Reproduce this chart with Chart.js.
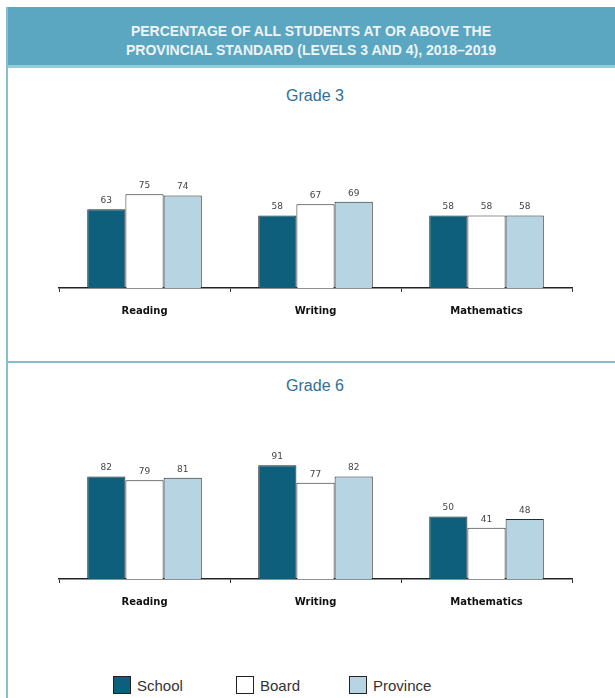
<!DOCTYPE html>
<html>
<head>
<meta charset="utf-8">
<script src="https://cdn.jsdelivr.net/npm/chart.js@4/dist/chart.umd.min.js"></script>
<style>
  body { margin: 0; background: #fff; font-family: "Liberation Sans", Arial, sans-serif; }
  #page { position: relative; width: 615px; height: 698px; overflow: hidden; }
  #frame { position: absolute; left: 6px; top: 7px; width: 2px; height: 691px; background: #86c0cf; }
  #header { position: absolute; left: 7px; top: 7px; width: 608px; height: 61px; background: #5ba7c1;
    border-bottom: 3px solid #93cddb; color: #eef4f6; font-weight: bold; font-size: 14px;
    text-align: center; line-height: 19px; padding-top: 15px; box-sizing: border-box; }
  #divider { position: absolute; left: 7px; top: 361px; width: 608px; height: 2px; background: #86bccb; }
  .title { position: absolute; left: 0; width: 630px; text-align: center; color: #2f6f97; font-size: 16px; }
  .wrap { position: absolute; left: 0; width: 615px; }
  #legend { position: absolute; top: 676px; left: 0; width: 615px; font-size: 15px; color: #333; }
  .item { position: absolute; top: 0; height: 18px; line-height: 20px; }
  .sw { position: absolute; left: 0; top: 0; width: 16px; height: 16px; border: 1.5px solid #222; }
  .lbl { position: absolute; left: 24px; top: 0; white-space: nowrap; }
</style>
</head>
<body>
<div id="page">
  <div id="header">PERCENTAGE OF ALL STUDENTS AT OR ABOVE THE<br>PROVINCIAL STANDARD (LEVELS 3 AND 4), 2018–2019</div>
  <div id="frame"></div>
  <div class="title" style="top:87px">Grade 3</div>
  <div class="wrap" style="top:143px;height:187px"><canvas id="grade3"></canvas></div>
  <div id="divider"></div>
  <div class="title" style="top:377px">Grade 6</div>
  <div class="wrap" style="top:434px;height:187px"><canvas id="grade6"></canvas></div>
  <div id="legend"></div>
</div>
<script>
// data
const subjects = ["Reading", "Writing", "Mathematics"];
const seriesNames = ["School", "Board", "Province"];
const seriesColors = ["#0d5f7c", "#ffffff", "#b6d4e1"];

const grade3School = [63, 58, 58];
const grade3Board = [75, 67, 58];
const grade3Province = [74, 69, 58];

const grade6School = [82, 91, 50];
const grade6Board = [79, 77, 41];
const grade6Province = [81, 82, 48];

// draw the value above each bar
const valueLabels = {
  id: "valueLabels",
  afterDatasetsDraw(chart) {
    const ctx = chart.ctx;
    ctx.save();
    ctx.font = "9px 'DejaVu Sans', sans-serif";
    ctx.fillStyle = "#444";
    ctx.textAlign = "center";
    ctx.textBaseline = "bottom";
    chart.data.datasets.forEach((ds, i) => {
      chart.getDatasetMeta(i).data.forEach((bar, j) => {
        ctx.fillText(ds.data[j], bar.x, bar.y - 4);
      });
    });
    ctx.restore();
  }
};

function makeChart(id, school, board, province) {
  const values = [school, board, province];
  new Chart(document.getElementById(id), {
    type: "bar",
    data: {
      labels: subjects,
      datasets: seriesNames.map((name, i) => ({
        label: name,
        data: values[i],
        backgroundColor: seriesColors[i],
        borderColor: "#2a2a2a",
        borderWidth: 1,
        categoryPercentage: 0.67,
        barPercentage: 1.0
      }))
    },
    options: {
      responsive: true,
      maintainAspectRatio: false,
      animation: false,
      layout: { padding: { left: 59, right: 43, top: 20, bottom: 0 } },
      plugins: { legend: { display: false }, tooltip: { enabled: false } },
      scales: {
        x: {
          grid: { display: true, drawOnChartArea: false, drawTicks: true, tickLength: 4, offset: true, color: "#333" },
          border: { display: true, color: "#222", width: 1.5 },
          ticks: { color: "#111", padding: 13, font: { family: "'DejaVu Sans', sans-serif", size: 10, weight: "bold" } }
        },
        y: { display: false, min: 0, max: 100 }
      }
    },
    plugins: [valueLabels]
  });
}

makeChart("grade3", grade3School, grade3Board, grade3Province);
makeChart("grade6", grade6School, grade6Board, grade6Province);

// legend
const legend = document.getElementById("legend");
const legendX = [113, 236, 349];
seriesNames.forEach((name, i) => {
  const item = document.createElement("div");
  item.className = "item";
  item.style.left = legendX[i] + "px";
  item.innerHTML = `<div class="sw" style="background:${seriesColors[i]}"></div><div class="lbl">${name}</div>`;
  legend.appendChild(item);
});
</script>
</body>
</html>
